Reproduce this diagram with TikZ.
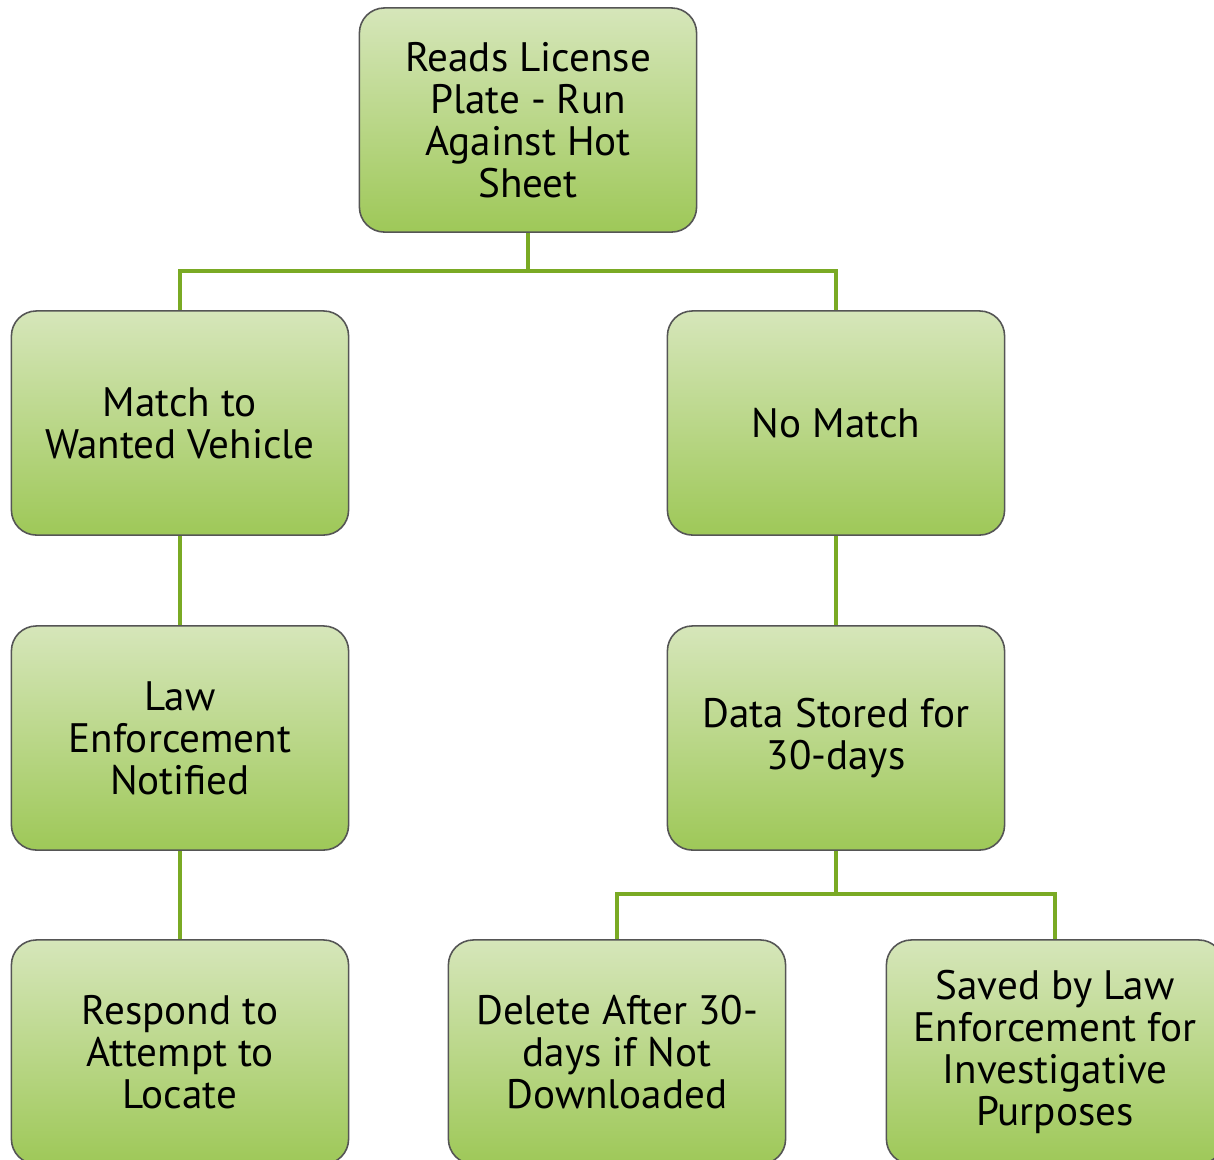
\documentclass[tikz,border=0pt]{standalone}
\usepackage{fontspec}
\setmainfont{PT Sans}
\definecolor{boxtop}{RGB}{214,230,186}
\definecolor{boxbottom}{RGB}{158,200,88}
\definecolor{boxedge}{RGB}{85,85,85}
\definecolor{linkgreen}{RGB}{122,170,36}
\begin{document}
\begin{tikzpicture}[x=0.01cm, y=-0.01cm,
    box/.style={rectangle, rounded corners=0.25cm, draw=boxedge, line width=0.45pt,
        top color=boxtop, bottom color=boxbottom, minimum width=3.37cm, minimum height=2.24cm,
        inner sep=0pt, align=center, font=\fontsize{11.7}{11.9}\selectfont},
    link/.style={draw=linkgreen, line width=1.1pt}]
    \clip (0,0) rectangle (1214,1159);

    % Wiersz 1
    \node[box] (plate) at (528,120) {Reads License\\Plate - Run\\Against Hot\\Sheet};

    % Wiersz 2
    \node[box] (match) at (180,423) {Match to\\Wanted Vehicle};
    \node[box] (nomatch) at (836,423) {No Match};

    % Wiersz 3
    \node[box] (notified) at (180,738) {Law\\Enforcement\\Notified};
    \node[box] (stored) at (836,738) {Data Stored for\\30-days};

    % Wiersz 4
    \node[box] (locate) at (180,1052) {Respond to\\Attempt to\\Locate};
    \node[box] (delete) at (617,1052) {Delete After 30-\\days if Not\\Downloaded};
    \node[box] (saved) at (1055,1052) {Saved by Law\\Enforcement for\\Investigative\\Purposes};

    % Polaczenia
    \coordinate (split1) at (528,271);
    \coordinate (split2) at (836,894);
    \draw[link] (plate.south) -- (split1);
    \draw[link] (match.north) |- (split1) -| (nomatch.north);
    \draw[link] (match.south) -- (notified.north);
    \draw[link] (notified.south) -- (locate.north);
    \draw[link] (nomatch.south) -- (stored.north);
    \draw[link] (stored.south) -- (split2);
    \draw[link] (delete.north) |- (split2) -| (saved.north);
\end{tikzpicture}
\end{document}
